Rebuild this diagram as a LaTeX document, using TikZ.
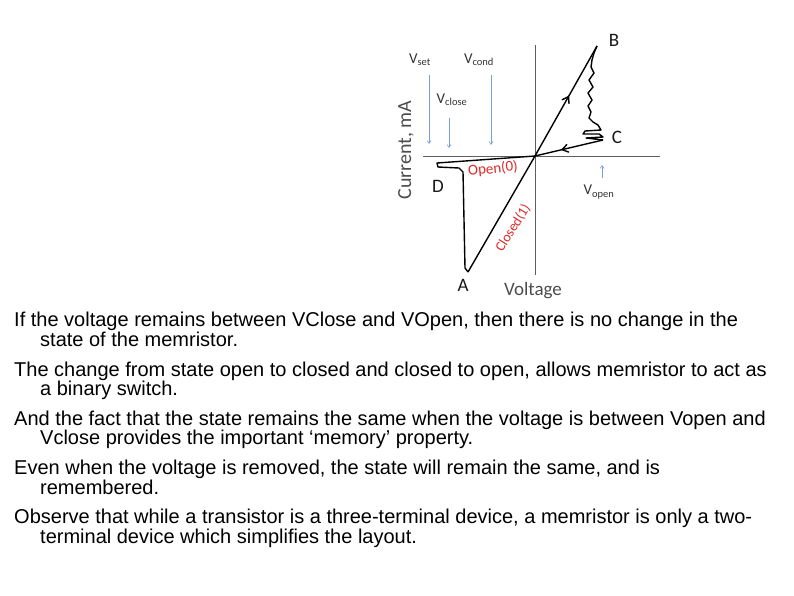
\documentclass[tikz,border=0pt]{standalone}
\usepackage{fontspec}
\setmainfont{Liberation Sans}
\newfontfamily\plotfont{Carlito}
\usetikzlibrary{arrows.meta,decorations.markings}

\definecolor{biasblue}{RGB}{120,160,210}
\definecolor{axisgrey}{RGB}{95,95,95}
\definecolor{statered}{RGB}{225,40,40}

\tikzset{
  iv curve/.style={black, line width=1.4pt, line join=round},
  mid arrow/.style={decoration={markings,
      mark=at position #1 with {\arrow{Straight Barb[length=6pt,width=8pt]}}},
    postaction={decorate}},
  axis line/.style={draw=axisgrey, line width=1pt},
  bias arrow/.style={draw=biasblue, line width=0.6pt,
    -{Straight Barb[length=3pt,width=4pt]}},
  bias label/.style={font=\plotfont\fontsize{15}{15}\selectfont,
    text=black!80, inner sep=0pt},
  point label/.style={font=\plotfont\fontsize{19}{19}\selectfont,
    text=black!90, inner sep=0pt},
  state label/.style={font=\plotfont\fontsize{14}{14}\selectfont,
    text=statered, inner sep=0pt},
  axis label/.style={font=\plotfont\fontsize{19}{19}\selectfont,
    text=black!70, inner sep=0pt},
  note/.style={anchor=base west, align=left, inner sep=0pt,
    font=\fontsize{20}{16.5}\selectfont},
}

\begin{document}
\begin{tikzpicture}[x=1pt, y=-1pt]
  \useasboundingbox (0,0) rectangle (794,595);

  % axes
  \coordinate (VAxisTop) at (535,45);
  \coordinate (VAxisEnd) at (535,275);
  \coordinate (HAxisLeft) at (423,156);
  \coordinate (HAxisRight) at (660,156);
  \draw[axis line] (HAxisLeft) -- (HAxisRight);
  \draw[axis line] (VAxisTop) -- (VAxisEnd);

  \node[axis label] (Voltage) at (533,291) {Voltage};
  \node[axis label, font=\plotfont\fontsize{20}{20}\selectfont, rotate=90]
    (Current) at (406,150) {Current, mA};

  % corner points of the loop
  \coordinate (Origin) at (535,156);
  \coordinate (B) at (597,46);
  \coordinate (C) at (603,140);
  \coordinate (D) at (437,163);
  \coordinate (A) at (468,272);

  \draw[iv curve, mid arrow=0.55] (Origin) -- (B);
  \draw[iv curve] (B) -- (594,53) -- (592,60) -- (591,67) -- (594,73)
    -- (589,80) -- (593,87) -- (588,93) -- (592,100) -- (588,106)
    -- (591,112) -- (589,118) -- (593,122) -- (598,125) -- (601,130)
    -- (585,131) -- (583,134) -- (599,134) -- (603,137) -- (586,138)
    -- (C);
  \draw[iv curve, mid arrow=0.62] (C) -- (Origin);
  \draw[iv curve] (Origin) -- (D) -- (438,167) -- (459,168)
    -- (463,172) -- (465,268) -- (A);
  \draw[iv curve] (A) -- (Origin);

  \node[point label] (LabelB) at (614,40) {B};
  \node[point label] (LabelC) at (617,137) {C};
  \node[point label] (LabelD) at (438,186) {D};
  \node[point label] (LabelA) at (463,285) {A};

  \node[state label, font=\plotfont\fontsize{15}{15}\selectfont, rotate=6]
    (OpenState) at (493,169) {Open(0)};
  \node[state label, rotate=58] (ClosedState) at (513,228) {Closed(1)};

  % bias levels
  \node[bias label] (VsetLabel) at (420,60) {V\textsubscript{set}};
  \node[bias label] (VcondLabel) at (479,60) {V\textsubscript{cond}};
  \node[bias label] (VcloseLabel) at (452,100) {V\textsubscript{close}};
  \node[bias label] (VopenLabel) at (599,192) {V\textsubscript{open}};

  \coordinate (VsetTail) at (429,75);
  \coordinate (VsetTip) at (429,144);
  \coordinate (VcondTail) at (491,75);
  \coordinate (VcondTip) at (491,145);
  \coordinate (VcloseTail) at (449,118);
  \coordinate (VcloseTip) at (449,148);
  \coordinate (VopenTail) at (602,178);
  \coordinate (VopenTip) at (602,165);
  \draw[bias arrow] (VsetTail) -- (VsetTip);
  \draw[bias arrow] (VcondTail) -- (VcondTip);
  \draw[bias arrow] (VcloseTail) -- (VcloseTip);
  \draw[bias arrow] (VopenTail) -- (VopenTip);

  % notes below the plot (anchored on their second line)
  \node[note] (NoteHold) at (14,346.5)
    {If the voltage remains between VClose and VOpen, then there is no change in the\\
     \hspace*{26pt}state of the memristor.};
  \node[note] (NoteSwitch) at (14,395.7)
    {The change from state open to closed and closed to open, allows memristor to act as\\
     \hspace*{26pt}a binary switch.};
  \node[note] (NoteMemory) at (14,444.9)
    {And the fact that the state remains the same when the voltage is between Vopen and\\
     \hspace*{26pt}Vclose provides the important `memory' property.};
  \node[note] (NoteRemoved) at (14,494.1)
    {Even when the voltage is removed, the state will remain the same, and is\\
     \hspace*{26pt}remembered.};
  \node[note] (NoteTerminals) at (14,543.3)
    {Observe that while a transistor is a three-terminal device, a memristor is only a two-\\
     \hspace*{26pt}terminal device which simplifies the layout.};
\end{tikzpicture}
\end{document}
